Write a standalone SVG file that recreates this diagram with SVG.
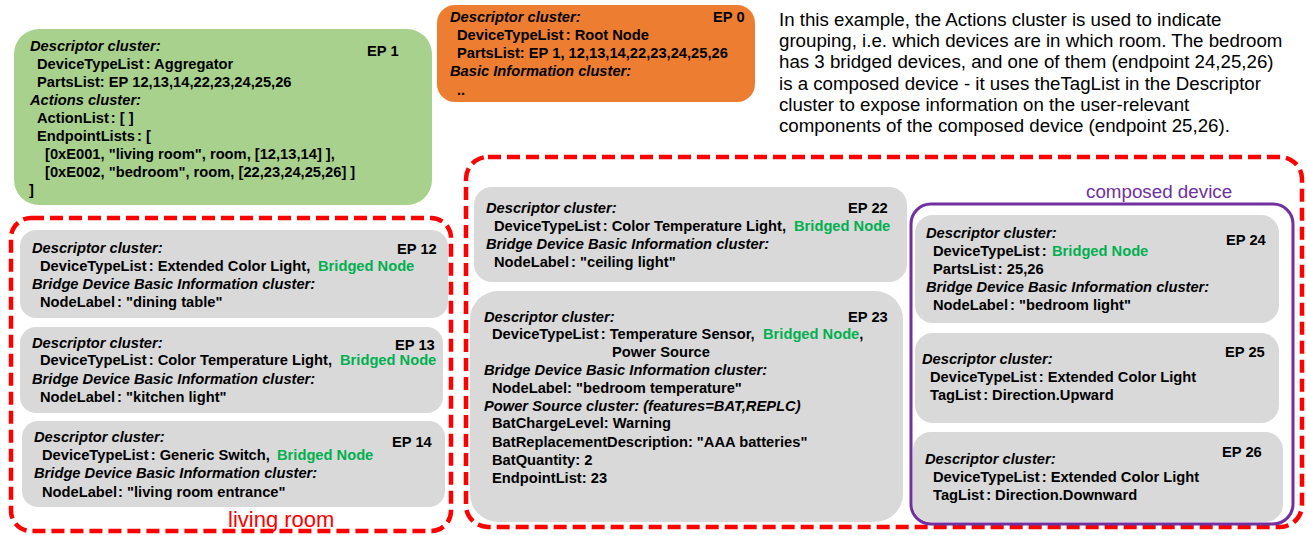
<svg xmlns="http://www.w3.org/2000/svg" width="1306" height="535" viewBox="0 0 1306 535">
<style>
.t{font-family:"Liberation Sans",Arial,sans-serif;font-size:14.7px;font-weight:bold;fill:#000}
.i{font-style:italic}
.g{fill:#00B050}
.box{fill:#D9D9D9}
.room{fill:none;stroke:#FF0000;stroke-width:4.5;stroke-dasharray:13 6}
.rl{font-family:"Liberation Sans",Arial,sans-serif;font-size:22px;fill:#FF0000}
.note{font-family:"Liberation Sans",Arial,sans-serif;font-size:18.7px;fill:#000}
</style>
<rect width="1306" height="535" fill="#fff"/>

<g id="note">
<text class="note" x="779" y="26">In this example, the Actions cluster is used to indicate</text>
<text class="note" x="779" y="47">grouping, i.e. which devices are in which room. The bedroom</text>
<text class="note" x="779" y="68">has 3 bridged devices, and one of them (endpoint 24,25,26)</text>
<text class="note" x="779" y="90">is a composed device - it uses theTagList in the Descriptor</text>
<text class="note" x="779" y="111">cluster to expose information on the user-relevant</text>
<text class="note" x="779" y="132">components of the composed device (endpoint 25,26).</text>
</g>

<g id="ep1">
<rect x="14" y="29" width="418" height="176" rx="25" fill="#A9D18E"/>
<text class="t i" x="30" y="51">Descriptor cluster:</text>
<text class="t" x="37" y="69">DeviceTypeList<tspan dx="2">: Aggregator</tspan></text>
<text class="t" x="37" y="87">PartsList: EP 12,13,14,22,23,24,25,26</text>
<text class="t i" x="30" y="105">Actions cluster:</text>
<text class="t" x="37" y="123">ActionList<tspan dx="2">: [ ]</tspan></text>
<text class="t" x="37" y="141">EndpointLists<tspan dx="2">: [</tspan></text>
<text class="t" x="45" y="159">[0xE001, "living room", room, [12,13,14] ],</text>
<text class="t" x="45" y="177">[0xE002, "bedroom", room, [22,23,24,25,26] ]</text>
<text class="t" x="29" y="195">]</text>
<text class="t" x="367" y="56">EP 1</text>
</g>

<g id="ep0">
<rect x="437" y="5" width="318" height="97" rx="18" fill="#ED7D31"/>
<text class="t i" x="450" y="22">Descriptor cluster:</text>
<text class="t" x="457" y="40">DeviceTypeList<tspan dx="2">: Root Node</tspan></text>
<text class="t" x="457" y="58">PartsList: EP 1, 12,13,14,22,23,24,25,26</text>
<text class="t i" x="450" y="76">Basic Information cluster:</text>
<text class="t" x="457" y="95">..</text>
<text class="t" x="713" y="22">EP 0</text>
</g>

<g id="living-room">
<text class="rl" x="228" y="527">living room</text>
<rect class="room" x="11" y="218" width="440" height="313" rx="20"/>
</g>

<g id="ep12">
<rect class="box" x="20" y="230" width="428" height="88" rx="16"/>
<text class="t i" x="32" y="253">Descriptor cluster:</text>
<text class="t" x="40" y="271">DeviceTypeList<tspan dx="2">: Extended Color Light,</tspan></text>
<text class="t g" x="318" y="271">Bridged Node</text>
<text class="t i" x="32" y="289">Bridge Device Basic Information cluster:</text>
<text class="t" x="40" y="307">NodeLabel<tspan dx="2">: "dining table"</tspan></text>
<text class="t" x="397" y="254">EP 12</text>
</g>

<g id="ep13">
<rect class="box" x="20" y="327" width="423" height="86" rx="16"/>
<text class="t i" x="32" y="348">Descriptor cluster:</text>
<text class="t" x="40" y="365">DeviceTypeList<tspan dx="2">: Color Temperature Light,</tspan></text>
<text class="t g" x="340" y="365">Bridged Node</text>
<text class="t i" x="32" y="384">Bridge Device Basic Information cluster:</text>
<text class="t" x="40" y="402">NodeLabel<tspan dx="2">: "kitchen light"</tspan></text>
<text class="t" x="395" y="350">EP 13</text>
</g>

<g id="ep14">
<rect class="box" x="22" y="421" width="423" height="86" rx="16"/>
<text class="t i" x="34" y="442">Descriptor cluster:</text>
<text class="t" x="42" y="460">DeviceTypeList<tspan dx="2">: Generic Switch,</tspan></text>
<text class="t g" x="277" y="460">Bridged Node</text>
<text class="t i" x="34" y="478">Bridge Device Basic Information cluster:</text>
<text class="t" x="42" y="497">NodeLabel<tspan dx="1">: "living room entrance"</tspan></text>
<text class="t" x="392" y="447">EP 14</text>
</g>

<g id="bedroom">
<text class="rl" x="753" y="521">bedroom</text>
<rect class="room" x="466" y="157" width="836" height="370" rx="22"/>
</g>

<g id="ep22">
<rect class="box" x="474" y="187" width="433" height="95" rx="18"/>
<text class="t i" x="486" y="213">Descriptor cluster:</text>
<text class="t" x="494" y="231">DeviceTypeList<tspan dx="2">: Color Temperature Light,</tspan></text>
<text class="t g" x="794" y="231">Bridged Node</text>
<text class="t i" x="486" y="249">Bridge Device Basic Information cluster:</text>
<text class="t" x="494" y="267">NodeLabel<tspan dx="2">: "ceiling light"</tspan></text>
<text class="t" x="848" y="213">EP 22</text>
</g>

<g id="ep23">
<rect class="box" x="470" y="291" width="433" height="231" rx="28"/>
<text class="t i" x="484" y="322">Descriptor cluster:</text>
<text class="t" x="492" y="339">DeviceTypeList<tspan dx="2">: Temperature Sensor,</tspan></text>
<text class="t" x="763" y="339"><tspan class="g">Bridged Node</tspan>,</text>
<text class="t" x="612" y="357">Power Source</text>
<text class="t i" x="484" y="375">Bridge Device Basic Information cluster:</text>
<text class="t" x="492" y="393">NodeLabel: "bedroom temperature"</text>
<text class="t i" x="484" y="411">Power Source cluster: (features=BAT,REPLC)</text>
<text class="t" x="492" y="428">BatChargeLevel: Warning</text>
<text class="t" x="492" y="447">BatReplacementDescription: "AAA batteries"</text>
<text class="t" x="492" y="465">BatQuantity: 2</text>
<text class="t" x="492" y="483">EndpointList: 23</text>
<text class="t" x="848" y="322">EP 23</text>
</g>

<g id="composed-device">
<text x="1086" y="198" font-family="Liberation Sans,Arial,sans-serif" font-size="18.8" fill="#7030A0">composed device</text>
<rect x="911" y="204" width="382" height="320" rx="20" fill="none" stroke="#7030A0" stroke-width="3"/>
</g>

<g id="ep24">
<rect class="box" x="915" y="215" width="364" height="108" rx="18"/>
<text class="t i" x="926" y="238">Descriptor cluster:</text>
<text class="t" x="933" y="256">DeviceTypeList<tspan dx="2">:</tspan></text>
<text class="t g" x="1052" y="256">Bridged Node</text>
<text class="t" x="933" y="274">PartsList<tspan dx="2">: 25,26</tspan></text>
<text class="t i" x="926" y="292">Bridge Device Basic Information cluster:</text>
<text class="t" x="933" y="310">NodeLabel<tspan dx="2">: "bedroom light"</tspan></text>
<text class="t" x="1226" y="245">EP 24</text>
</g>

<g id="ep25">
<rect class="box" x="915" y="333" width="364" height="90" rx="18"/>
<text class="t i" x="922" y="364">Descriptor cluster:</text>
<text class="t" x="930" y="382">DeviceTypeList<tspan dx="2">: Extended Color Light</tspan></text>
<text class="t" x="930" y="400">TagList<tspan dx="2">: Direction.Upward</tspan></text>
<text class="t" x="1225" y="357">EP 25</text>
</g>

<g id="ep26">
<rect class="box" x="913" y="432" width="370" height="90" rx="18"/>
<text class="t i" x="925" y="464">Descriptor cluster:</text>
<text class="t" x="933" y="482">DeviceTypeList<tspan dx="2">: Extended Color Light</tspan></text>
<text class="t" x="933" y="500">TagList<tspan dx="2">: Direction.Downward</tspan></text>
<text class="t" x="1222" y="457">EP 26</text>
</g>

<g id="connectors"></g>
</svg>
